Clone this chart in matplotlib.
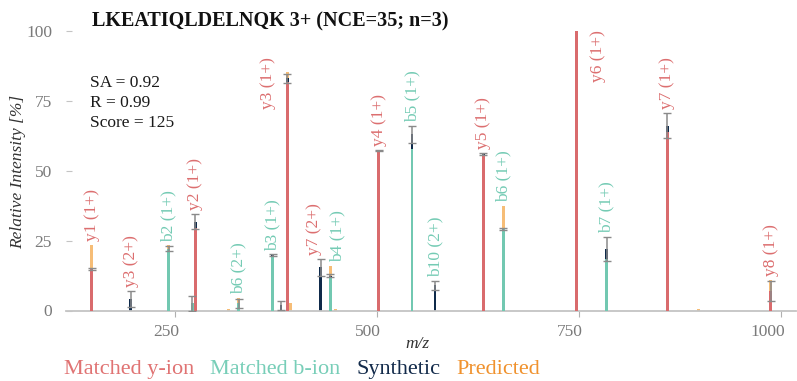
import numpy as np
import matplotlib
matplotlib.use("Agg")
import matplotlib.pyplot as plt
from matplotlib.transforms import ScaledTranslation

plt.rcParams["font.family"] = ["Liberation Serif", "DejaVu Serif"]

# ---- data -------------------------------------------------------------
peptide_title = "LKEATIQLDELNQK 3+ (NCE=35; n=3)"
stats_lines = ["SA = 0.92", "R = 0.99", "Score = 125"]

# matched fragment ions (observed intensity, % of base peak)
ion_labels = ["y1 (1+)", "y3 (2+)", "b2 (1+)", "y2 (1+)", "b6 (2+)", "b3 (1+)",
              "y3 (1+)", "y7 (2+)", "b4 (1+)", "y4 (1+)", "b5 (1+)", "b10 (2+)",
              "y5 (1+)", "b6 (1+)", "y6 (1+)", "b7 (1+)", "y7 (1+)", "y8 (1+)"]
ion_types = ["y", "y", "b", "y", "b", "b", "y", "y", "b", "y", "b", "b",
             "y", "b", "y", "b", "y", "y"]
ion_mz = [147.1, 195.1, 242.2, 275.2, 328.7, 371.2, 389.2, 430.2, 442.3, 502.3,
          543.3, 571.8, 631.4, 656.4, 746.4, 784.5, 859.5, 987.5]
ion_intensity = [14.8, 0.0, 22.0, 29.4, 2.8, 19.7, 82.0, 0.0, 12.1, 56.8,
                 57.7, 0.0, 55.7, 29.2, 100.0, 18.3, 64.0, 7.1]

# unlabelled matched b-type peak
extra_b_mz = [271.5]
extra_b_intensity = [2.6]

# synthetic spectrum: mean and standard deviation over replicates
synth_mz = [147.1, 195.1, 242.2, 271.5, 275.2, 328.7, 371.2, 381.2, 389.2, 430.2,
            442.3, 502.3, 543.3, 571.8, 631.4, 656.4, 784.5, 859.5, 987.5]
synth_mean = [14.8, 4.2, 22.2, 2.5, 31.8, 2.5, 19.8, 1.8, 83.2, 15.5,
              12.4, 57.3, 63.1, 9.0, 56.0, 29.3, 22.1, 66.2, 7.0]
synth_sd = [0.3, 2.9, 0.9, 2.6, 2.7, 1.5, 0.3, 1.5, 1.7, 3.0,
            0.5, 0.3, 3.0, 1.7, 0.3, 0.3, 4.3, 4.5, 3.6]

# predicted spectrum
pred_mz = [147.1, 242.2, 316.0, 328.7, 389.2, 393.0, 442.3, 449.0, 656.4, 897.7, 987.5]
pred_intensity = [23.4, 23.3, 0.7, 4.4, 85.6, 2.8, 15.9, 0.5, 37.5, 0.6, 10.9]

x_ticks = [250, 500, 750, 1000]
y_ticks = [0, 25, 50, 75, 100]

# ---- style ------------------------------------------------------------
RED = "#d96b6d"
TEAL = "#72c8b1"
NAVY = "#0f2a4a"
ORANGE_BAR = "#f6bd77"
LABEL_COL = {"y": "#dc6e6f", "b": "#74cbb4"}
LEGEND_ITEMS = [("Matched y-ion", "#e07373"), ("Matched b-ion", "#78ceb8"),
                ("Synthetic", "#132b4b"), ("Predicted", "#f0922e")]
GREY_TXT = "#7a7a7a"

W, H = 797, 381
fig = plt.figure(figsize=(W / 100, H / 100), dpi=100)


def fx(px):
    return px / W


def fy(py):
    return 1 - py / H


ax_left, ax_right, ax_top, ax_bot = 66, 796, 28.3, 310.5
ax = fig.add_axes([fx(ax_left), fy(ax_bot), fx(ax_right - ax_left), (ax_bot - ax_top) / H])
ax.set_xlim(115.1, 1018.6)
ax.set_ylim(0, 101.1)

bar_w = 3.6
ax.bar(pred_mz, pred_intensity, width=bar_w, color=ORANGE_BAR, linewidth=0, zorder=1)
ax.bar(synth_mz, synth_mean, width=bar_w, color=NAVY, linewidth=0, zorder=2)
ion_colors = [RED if t == "y" else TEAL for t in ion_types]
ax.bar(ion_mz, ion_intensity, width=bar_w, color=ion_colors, linewidth=0, zorder=3)
ax.bar(extra_b_mz, extra_b_intensity, width=bar_w, color=TEAL, linewidth=0, zorder=3)
ax.errorbar(synth_mz, synth_mean, yerr=synth_sd, fmt="none", ecolor="#8a8a8a",
            elinewidth=1.1, capsize=3.2, capthick=1.0, zorder=5)

# ion annotations, placed just above the tallest element at each position;
# crowded labels are pushed sideways (dx in points, optional fixed top)
synth_top = dict(zip(synth_mz, np.array(synth_mean) + np.array(synth_sd)))
pred_top = dict(zip(pred_mz, pred_intensity))
label_shift = {"y3 (1+)": (-14.0, 90.7), "y6 (1+)": (15.5, 100.4),
               "y7 (2+)": (-4.5, None), "b4 (1+)": (4.8, None)}
for lab, t, mz, inten in zip(ion_labels, ion_types, ion_mz, ion_intensity):
    top = max(inten, synth_top.get(mz, 0), pred_top.get(mz, 0))
    dx, ytop = label_shift.get(lab, (0.0, None))
    if ytop is not None:
        ax.annotate(lab, xy=(mz, ytop), xytext=(dx, 0), textcoords="offset points",
                    rotation=90, ha="center", va="top", fontsize=12.5,
                    color=LABEL_COL[t], zorder=6, annotation_clip=False)
    else:
        ax.annotate(lab, xy=(mz, top), xytext=(dx, 2.8), textcoords="offset points",
                    rotation=90, ha="center", va="bottom", fontsize=12.5,
                    color=LABEL_COL[t], zorder=6, annotation_clip=False)

# axes styling
for s in ["top", "right", "left"]:
    ax.spines[s].set_visible(False)
ax.spines["bottom"].set_color("#c4c4c4")
ax.spines["bottom"].set_linewidth(1.3)
ax.set_xticks(x_ticks)
ax.set_xticklabels([str(v) for v in x_ticks])
ax.set_yticks(y_ticks)
ax.set_yticklabels([str(v) for v in y_ticks])
ax.tick_params(axis="x", direction="out", length=4, width=0.8, color="#b0b0b0",
               labelsize=12.5, labelcolor=GREY_TXT, pad=6)
ax.tick_params(axis="y", direction="in", length=4.5, width=0.8, color="#c4c4c4",
               labelsize=12.5, labelcolor=GREY_TXT, pad=10)
shift = ScaledTranslation(4 / 100, 0, fig.dpi_scale_trans)
for tl in ax.get_xticklabels():
    tl.set_horizontalalignment("right")
    tl.set_transform(tl.get_transform() + shift)
ax.set_facecolor("none")

# titles and text
fig.text(fx(92.3), fy(26.7), peptide_title, fontsize=14.5, fontweight="bold",
         va="baseline", ha="left", color="#111111")
for i, line in enumerate(stats_lines):
    fig.text(fx(90), fy(86.7 + 20 * i), line, fontsize=12.5, va="baseline",
             ha="left", color="#1a1a1a")
fig.text(fx(417), fy(343.5), "m/z", fontsize=12.5, style="italic",
         ha="center", va="center", color="#333333")
fig.text(fx(18), fy(172), "Relative Intensity [%]", fontsize=12.5, style="italic",
         rotation=90, ha="center", va="center", color="#333333")

# legend row
fig.canvas.draw()
renderer = fig.canvas.get_renderer()
x_cursor = 63.5
for txt, col in LEGEND_ITEMS:
    t = fig.text(fx(x_cursor), fy(374), txt, fontsize=16, color=col,
                 ha="left", va="baseline")
    bb = t.get_window_extent(renderer=renderer)
    x_cursor += bb.width + 16

fig.savefig("out.png", dpi=100)
